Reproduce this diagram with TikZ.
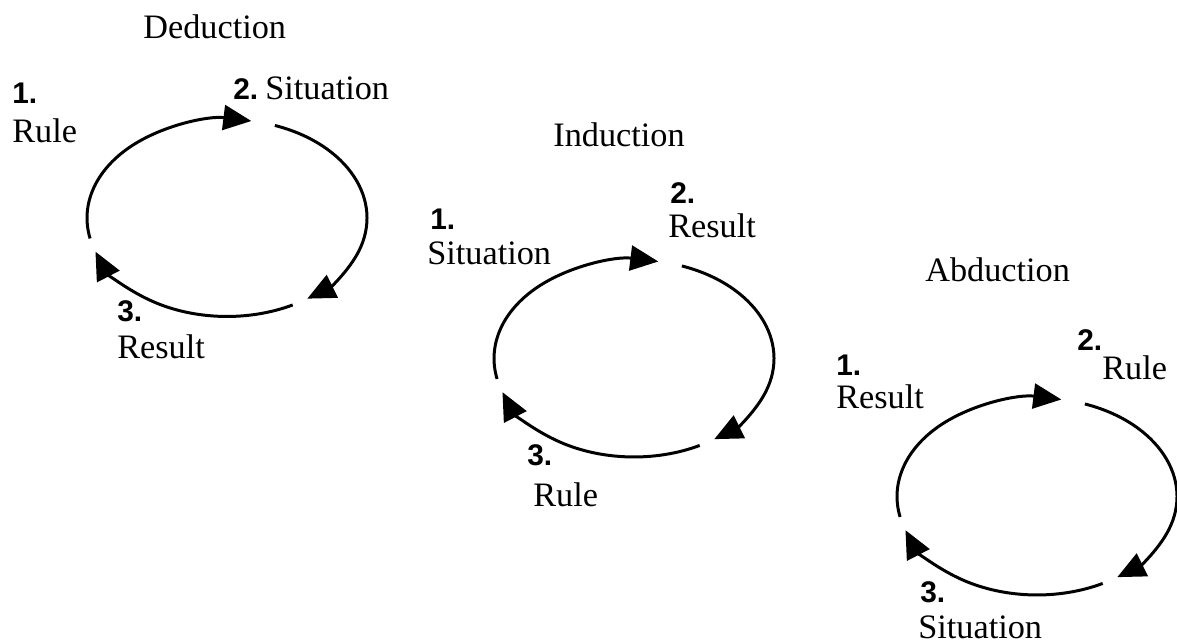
\documentclass[tikz,border=0pt]{standalone}
\usepackage{fontspec}
\setmainfont{Liberation Serif}
\newfontfamily\numfont{Liberation Sans}
\usetikzlibrary{arrows.meta,calc}
\tikzset{
  lbl/.style={anchor=base west,inner sep=0pt,font=\fontsize{19.5}{22}\selectfont},
  num/.style={anchor=base west,inner sep=0pt,font=\numfont\bfseries\fontsize{17}{18}\selectfont},
  cyc/.style={line width=1.7pt,-{Triangle[length=0.56cm,width=0.5cm]}}
}
\newcommand{\cycle}[2]{%
  \coordinate (#1a) at ($(#2)+(192:2.8cm and 1.97cm)$);
  \coordinate (#1b) at ($(#2)+(70:2.8cm and 1.97cm)$);
  \coordinate (#1c) at ($(#2)+(-62:2.8cm and 1.97cm)$);
  \draw[cyc] (#1a) arc[start angle=192,end angle=80,x radius=2.8cm,y radius=1.97cm];
  \draw[cyc] (#1b) arc[start angle=70,end angle=-55,x radius=2.8cm,y radius=1.97cm];
  \draw[cyc] (#1c) arc[start angle=-62,end angle=-160,x radius=2.8cm,y radius=1.97cm];
}
\begin{document}
\begin{tikzpicture}[x=0.02cm,y=0.02cm]
\useasboundingbox (0,0) rectangle (1177,644);
% Deduction
\coordinate (dc) at (227,426);
\cycle{d}{dc}
\node[lbl] (dt) at (143,605) {Deduction};
\node[num] (d1n) at (12,540) {1.};
\node[lbl] (d1l) at (12,501) {Rule};
\node[num] (d2n) at (233,544) {2.};
\node[lbl] (d2l) at (265,544) {Situation};
\node[num] (d3n) at (117,322) {3.};
\node[lbl] (d3l) at (117,285) {Result};
% Induction
\coordinate (ic) at (634,285.5);
\cycle{i}{ic}
\node[lbl] (it) at (553,497) {Induction};
\node[num] (i1n) at (430,414) {1.};
\node[lbl] (i1l) at (427,379) {Situation};
\node[num] (i2n) at (670,440) {2.};
\node[lbl] (i2l) at (668,406) {Result};
\node[num] (i3n) at (527,178) {3.};
\node[lbl] (i3l) at (533,137) {Rule};
% Abduction
\coordinate (ac) at (1037,147.5);
\cycle{a}{ac}
\node[lbl] (at) at (925,362) {Abduction};
\node[num] (a1n) at (836,268) {1.};
\node[lbl] (a1l) at (836,235) {Result};
\node[num] (a2n) at (1077,293) {2.};
\node[lbl] (a2l) at (1102,264) {Rule};
\node[num] (a3n) at (920,41) {3.};
\node[lbl] (a3l) at (918,5) {Situation};
\end{tikzpicture}
\end{document}
